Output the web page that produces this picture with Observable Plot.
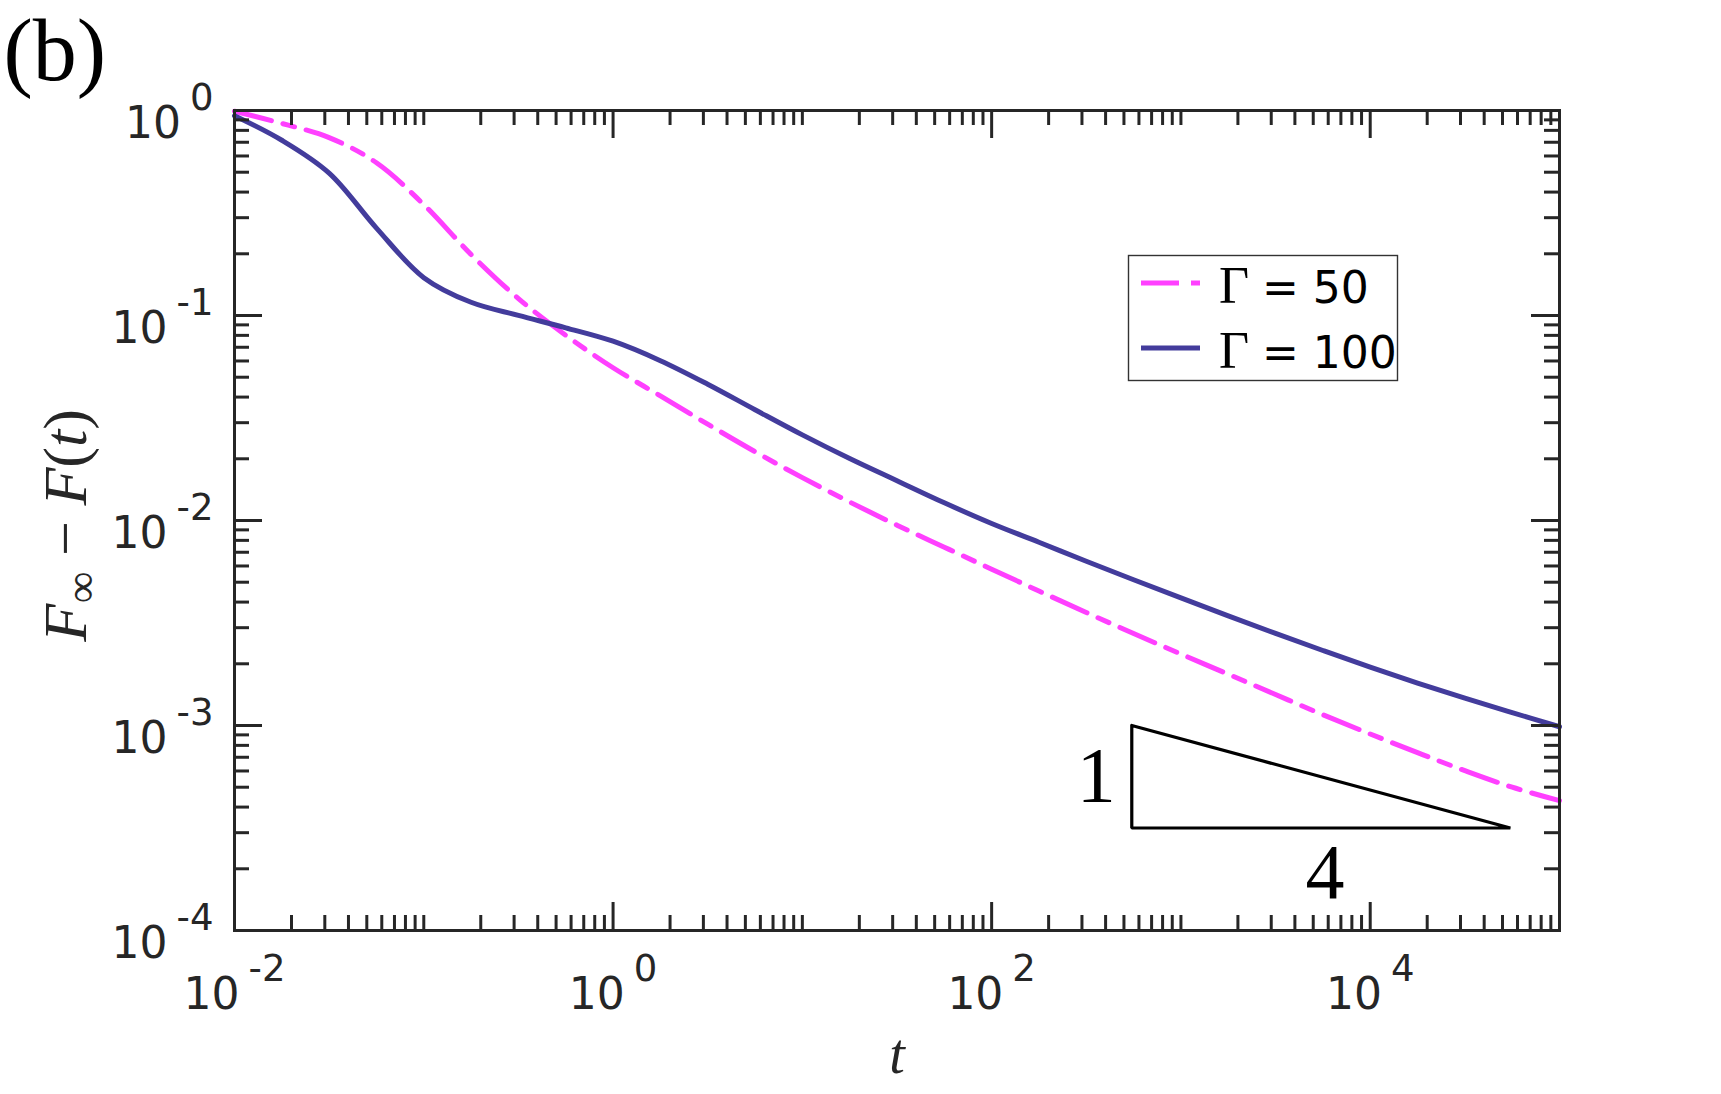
<!DOCTYPE html>
<html>
<head>
<meta charset="utf-8">
<script src="https://cdn.jsdelivr.net/npm/d3@7"></script>
<script src="https://cdn.jsdelivr.net/npm/@observablehq/plot@0.6"></script>
<style>
  html, body { margin: 0; padding: 0; background: #fff; }
  svg { display: block; }
</style>
</head>
<body>
<div id="chart"></div>
<script>
// ---- data ----
const seriesNames = ["Γ = 50", "Γ = 100"];
const seriesColors = ["#ff40ff", "#433c9c"];
const seriesDashes = ["38,12,12,12", null];

// sample times (quarter decades, 1e-2 .. 1e5)
const tSamples = [0.01, 0.01778, 0.03162, 0.05623, 0.1, 0.1778, 0.3162, 0.5623, 1, 1.778, 3.162, 5.623, 10, 17.78, 31.62, 56.23, 100, 177.8, 316.2, 562.3, 1000, 1778, 3162, 5623, 10000, 17783, 31623, 56234, 100000];

// Γ = 50 (dash-dot)
const f50 = [0.992, 0.865, 0.737, 0.556, 0.3475, 0.1984, 0.121, 0.0801, 0.0556, 0.04053, 0.0295, 0.02166, 0.01618, 0.01231, 0.00949, 0.00741, 0.00579, 0.00453, 0.003558, 0.002811, 0.002232, 0.001779, 0.001416, 0.001129, 0.000909, 0.000737, 0.000602, 0.0005, 0.00043];

// Γ = 100 (solid)
const f100 = [0.943, 0.716, 0.495, 0.267, 0.153, 0.116, 0.1001, 0.0871, 0.0749, 0.0602, 0.0462, 0.0347, 0.02616, 0.02006, 0.01563, 0.0122, 0.00967, 0.00783, 0.00633, 0.00514, 0.00419, 0.003424, 0.002813, 0.002322, 0.001925, 0.001609, 0.001359, 0.001156, 0.000986];

// slope triangle (1 : 4)
const triT = [550, 550, 55000, 550];
const triF = [1e-3, 3.162e-4, 3.162e-4, 1e-3];
const triLabelT = [550, 5500];
const triLabelF = [5.62e-4, 3.162e-4];
const triLabels = ["1", "4"];

// axes
const xDomain = [1e-2, 1e5];
const yDomain = [1e-4, 1];
const xMajorTicks = [1e-2, 1e0, 1e2, 1e4];
const xTickLabels = ["10^-2", "10^0", "10^2", "10^4"];
const yMajorTicks = [1e-4, 1e-3, 1e-2, 1e-1, 1e0];
const yTickLabels = ["10^-4", "10^-3", "10^-2", "10^-1", "10^0"];
const xLabel = "t";
const yLabel = "F∞ − F(t)";
const panelLabel = "(b)";

// minor ticks (2..9 per decade, plus unlabeled decades on x)
const xMinorTicks = [];
for (let e = -2; e < 5; e++) {
  for (let m = 1; m < 10; m++) {
    if (m === 1 && e % 2 === 0) continue;
    xMinorTicks.push(m * Math.pow(10, e));
  }
}
xMinorTicks.push(1e5);
const yMinorTicks = [];
for (let e = -4; e < 0; e++) for (let m = 2; m < 10; m++) yMinorTicks.push(m * Math.pow(10, e));

// ---- layout ----
const W = 1721, Hs = 1094;
const mL = 234, mR = 162, mT = 110, mB = 164;
const pw = W - mL - mR, ph = Hs - mT - mB;
const majorLen = 28, minorLen = 15;
const axisColor = "#262626";

const rows50 = tSamples.map((t, i) => ({t, f: f50[i]}));
const rows100 = tSamples.map((t, i) => ({t, f: f100[i]}));
const triRows = triT.map((t, i) => ({t, f: triF[i]}));

const tickStyle = {stroke: axisColor, strokeWidth: 3};

const chart = Plot.plot({
  width: W, height: Hs,
  marginLeft: mL, marginRight: mR, marginTop: mT, marginBottom: mB,
  style: {background: "white", overflow: "visible"},
  x: {type: "log", domain: xDomain, axis: null},
  y: {type: "log", domain: yDomain, axis: null},
  marks: [
    // curves
    Plot.line(rows50, {x: "t", y: "f", stroke: seriesColors[0], strokeWidth: 5, strokeDasharray: seriesDashes[0], curve: "catmull-rom"}),
    Plot.line(rows100, {x: "t", y: "f", stroke: seriesColors[1], strokeWidth: 5, curve: "catmull-rom"}),
    // slope triangle
    Plot.line(triRows, {x: "t", y: "f", stroke: "black", strokeWidth: 3.2, strokeLinejoin: "miter"}),
    Plot.text([0], {x: () => triLabelT[0], y: () => triLabelF[0], text: () => triLabels[0], textAnchor: "end", lineAnchor: "bottom", dx: -16, dy: 24, fontFamily: "Liberation Serif", fontSize: 78, fill: "black"}),
    Plot.text([0], {x: () => triLabelT[1], y: () => triLabelF[1], text: () => triLabels[1], textAnchor: "middle", lineAnchor: "bottom", dx: 4, dy: 70, fontFamily: "Liberation Serif", fontSize: 78, fill: "black"}),
    // frame
    Plot.frame({stroke: axisColor, strokeWidth: 3}),
    // ticks: left / right
    Plot.tickY(yMajorTicks, {y: d => d, insetRight: pw - majorLen, ...tickStyle}),
    Plot.tickY(yMajorTicks, {y: d => d, insetLeft: pw - majorLen, ...tickStyle}),
    Plot.tickY(yMinorTicks, {y: d => d, insetRight: pw - minorLen, ...tickStyle}),
    Plot.tickY(yMinorTicks, {y: d => d, insetLeft: pw - minorLen, ...tickStyle}),
    // ticks: bottom / top
    Plot.tickX(xMajorTicks, {x: d => d, insetTop: ph - majorLen, ...tickStyle}),
    Plot.tickX(xMajorTicks, {x: d => d, insetBottom: ph - majorLen, ...tickStyle}),
    Plot.tickX(xMinorTicks, {x: d => d, insetTop: ph - minorLen, ...tickStyle}),
    Plot.tickX(xMinorTicks, {x: d => d, insetBottom: ph - minorLen, ...tickStyle}),
    // tick labels
    Plot.text(xMajorTicks, {x: d => d, frameAnchor: "bottom", text: (d, i) => xTickLabels[i], textAnchor: "middle", lineAnchor: "bottom", dy: 78, fontFamily: "DejaVu Sans", fontSize: 44, fill: axisColor}),
    Plot.text(yMajorTicks, {y: d => d, frameAnchor: "left", text: (d, i) => yTickLabels[i], textAnchor: "end", lineAnchor: "bottom", dx: -21, dy: 27, fontFamily: "DejaVu Sans", fontSize: 44, fill: axisColor}),
    // axis labels
    Plot.text([xLabel], {frameAnchor: "bottom", text: d => d, textAnchor: "middle", lineAnchor: "bottom", dy: 142, fontFamily: "Liberation Serif", fontStyle: "italic", fontSize: 56, fill: axisColor}),
    Plot.text([yLabel], {frameAnchor: "left", text: d => d, rotate: -90, textAnchor: "middle", lineAnchor: "bottom", dx: -149, dy: 5, fontFamily: "Liberation Serif", fontSize: 62, fill: axisColor}),
    // panel label
    Plot.text([panelLabel], {frameAnchor: "top-left", text: d => d, textAnchor: "start", lineAnchor: "bottom", dx: -mL + 3, dy: -mT + 79, fontFamily: "Liberation Serif", fontSize: 88, fill: "black"})
  ]
});

document.getElementById("chart").appendChild(chart);
const svg = d3.select(chart.tagName.toLowerCase() === "svg" ? chart : chart.querySelector("svg"));

// superscripted tick labels
svg.selectAll("text").each(function () {
  const m = /^10\^(.+)$/.exec(this.textContent);
  if (!m) return;
  const el = d3.select(this);
  el.text(null);
  el.append("tspan").text("10");
  el.append("tspan").attr("font-size", 37).attr("dx", 9).attr("dy", -28).text(m[1]);
});

// y label with math styling (italic F, subscript ∞)
svg.selectAll("text").each(function () {
  if (this.textContent !== yLabel) return;
  const el = d3.select(this);
  el.text(null);
  el.append("tspan").attr("font-style", "italic").text("F");
  el.append("tspan").attr("font-size", 44).attr("dy", 10).attr("dx", 1).text("∞");
  el.append("tspan").attr("dy", -10).text(" − ");
  el.append("tspan").attr("font-style", "italic").text("F");
  el.append("tspan").text("(");
  el.append("tspan").attr("font-style", "italic").text("t");
  el.append("tspan").text(")");
});

// legend (inside the axes, top right)
const lg = svg.append("g").attr("aria-label", "legend");
lg.append("rect").attr("x", 1128.5).attr("y", 255.5).attr("width", 269).attr("height", 125)
  .attr("fill", "white").attr("stroke", "#333").attr("stroke-width", 1.4);
seriesNames.forEach((name, i) => {
  const cy = 283 + i * 65;
  const ln = lg.append("line").attr("x1", 1141).attr("x2", 1200).attr("y1", cy).attr("y2", cy)
    .attr("stroke", seriesColors[i]).attr("stroke-width", 5);
  if (seriesDashes[i]) ln.attr("stroke-dasharray", seriesDashes[i]);
  const tx = lg.append("text").attr("x", 1219).attr("y", cy + 20).attr("fill", "black").attr("text-anchor", "start");
  tx.append("tspan").attr("font-family", "Liberation Serif").attr("font-size", 52).text(name.slice(0, 1));
  tx.append("tspan").attr("x", 1262).attr("font-family", "DejaVu Sans").attr("font-size", 44).text(name.slice(2));
});
</script>
</body>
</html>
